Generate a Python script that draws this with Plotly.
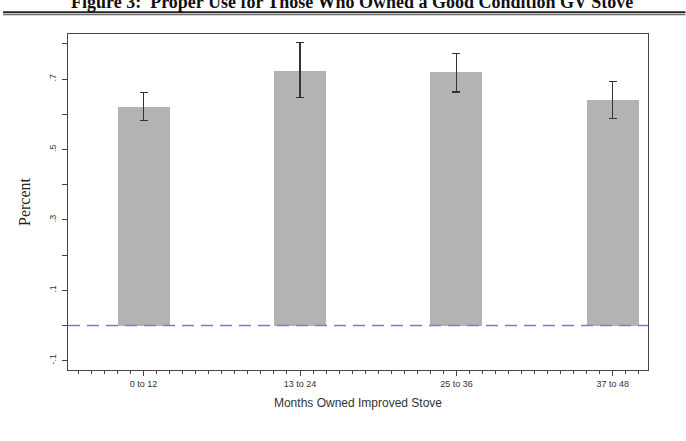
import plotly.graph_objects as go

categories = ["0 to 12", "13 to 24", "25 to 36", "37 to 48"]
cat_pos = [6, 18, 30, 42]
values = [0.621, 0.724, 0.719, 0.641]
err_plus = [0.040, 0.079, 0.053, 0.052]
err_minus = [0.039, 0.077, 0.056, 0.054]
ytick_vals = [-0.1, 0.1, 0.3, 0.5, 0.7]
ytick_text = ["-.1", ".1", ".3", ".5", ".7"]
title_text = "Figure 3:  Proper Use for Those Who Owned a Good Condition GV Stove"

W, H = 686, 441
ml, mr, mt, mb = 68, 37.5, 33.5, 71
pw, ph = W - ml - mr, H - mt - mb

def px_x(p):
    return (p - ml) / pw

def px_y(p):
    return 1 + (mt - p) / ph

fig = go.Figure()
fig.add_trace(go.Bar(
    x=cat_pos, y=values, width=4,
    marker=dict(color="#b3b3b3", line=dict(width=0)),
    error_y=dict(type="data", symmetric=False, array=err_plus, arrayminus=err_minus,
                 color="#333333", thickness=1.2, width=4),
    hoverinfo="skip",
))

fig.add_shape(type="line", xref="paper", yref="y", x0=0, x1=1, y0=0, y1=0,
              line=dict(color="#7f74e0", width=1.5, dash="12px,7px"), layer="above")

# title rules
fig.add_shape(type="line", xref="paper", yref="paper", x0=px_x(3), x1=px_x(686),
              y0=px_y(11.7), y1=px_y(11.7), line=dict(color="#222222", width=2))
fig.add_shape(type="line", xref="paper", yref="paper", x0=px_x(3), x1=px_x(686),
              y0=px_y(14.2), y1=px_y(14.2), line=dict(color="#444444", width=1))

fig.add_annotation(text="<b>" + title_text + "</b>", xref="paper", yref="paper",
                   x=px_x(352), y=px_y(1.5), xanchor="center", yanchor="middle",
                   showarrow=False, font=dict(family="Liberation Serif", size=18, color="#111111"))

fig.update_layout(
    width=W, height=H,
    margin=dict(l=ml, r=mr, t=mt, b=mb, pad=0),
    plot_bgcolor="white", paper_bgcolor="white",
    showlegend=False,
    bargap=0,
)
fig.update_xaxes(
    range=[0.2, 44.7],
    tickvals=cat_pos, ticktext=categories,
    ticks="outside", ticklen=5, tickwidth=1, tickcolor="#444444",
    minor=dict(dtick=1, tick0=0, ticks="outside", ticklen=3, tickwidth=1, tickcolor="#444444"),
    showline=True, linecolor="#444444", linewidth=1, mirror=True,
    showgrid=False, zeroline=False,
    tickfont=dict(family="Liberation Sans", size=9, color="#333333"),
    title=dict(text="Months Owned Improved Stove", standoff=10,
               font=dict(family="Liberation Sans", size=12, color="#333333")),
)
fig.update_yaxes(
    range=[-0.1264, 0.828],
    tickvals=ytick_vals, ticktext=ytick_text, tickangle=-90,
    ticks="outside", ticklen=5, tickwidth=1, tickcolor="#444444",
    minor=dict(dtick=0.2, tick0=0, ticks="outside", ticklen=5, tickwidth=1, tickcolor="#444444"),
    showline=True, linecolor="#444444", linewidth=1, mirror=True,
    showgrid=False, zeroline=False, ticklabelstandoff=2,
    tickfont=dict(family="Liberation Sans", size=9, color="#333333"),
    title=dict(text="Percent", standoff=13,
               font=dict(family="Liberation Serif", size=16, color="#222222")),
)

fig.write_html("out.html")
